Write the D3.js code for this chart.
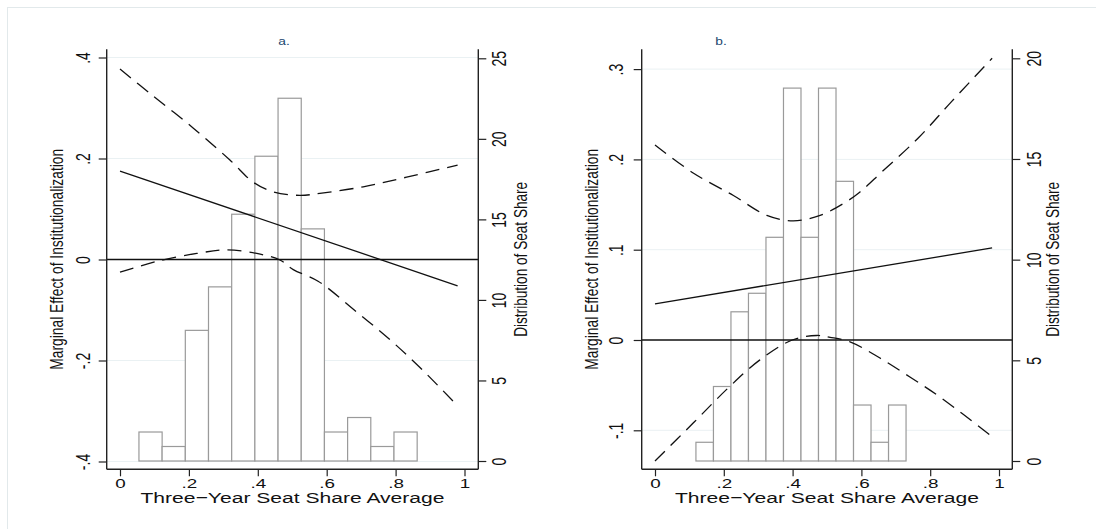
<!DOCTYPE html>
<html>
<head>
<meta charset="utf-8">
<script src="https://cdn.jsdelivr.net/npm/d3@7"></script>
<style>
  body { margin: 0; background: #fff; }
  svg { display: block; font-family: "Liberation Sans", Arial, sans-serif; }
</style>
</head>
<body>
<svg id="chart" width="1096" height="529"></svg>
<script>
// ---- data, panel a ----
const histA = [1.80, 0.90, 8.11, 10.81, 15.32, 18.92, 22.52, 14.41, 1.80, 2.70, 0.90, 1.80];
const binStartA = 0.055, binWidthA = 0.0673;
const effectA = [[0, 0.175], [0.98, -0.052]];
const upperA = [[0, 0.377], [0.087, 0.329], [0.213, 0.26], [0.319, 0.197], [0.387, 0.153], [0.445, 0.134],
                [0.522, 0.127], [0.58, 0.131], [0.706, 0.144], [0.832, 0.163], [0.98, 0.187]];
const lowerA = [[0, -0.025], [0.106, -0.004], [0.223, 0.012], [0.31, 0.019], [0.397, 0.012], [0.464, -0.001],
                [0.503, -0.02], [0.575, -0.043], [0.68, -0.10], [0.784, -0.159], [0.88, -0.22], [0.98, -0.29]];
const leftTicksA = [-0.4, -0.2, 0, 0.2, 0.4];
const rightTicksA = [0, 5, 10, 15, 20, 25];

// ---- data, panel b ----
const histB = [0.93, 3.70, 7.41, 8.33, 11.11, 18.52, 11.11, 18.52, 13.89, 2.78, 0.93, 2.78];
const binStartB = 0.119, binWidthB = 0.0509;
const effectB = [[0, 0.040], [0.98, 0.102]];
const upperB = [[0, 0.216], [0.111, 0.185], [0.228, 0.16], [0.325, 0.138], [0.402, 0.132], [0.48, 0.138],
                [0.547, 0.151], [0.596, 0.164], [0.659, 0.186], [0.766, 0.224], [0.862, 0.264], [0.98, 0.312]];
const lowerB = [[0, -0.134], [0.111, -0.092], [0.213, -0.053], [0.305, -0.022], [0.399, 0], [0.47, 0.005],
                [0.509, 0.003], [0.567, -0.002], [0.654, -0.02], [0.741, -0.041], [0.828, -0.063], [0.98, -0.107]];
const leftTicksB = [-0.1, 0, 0.1, 0.2, 0.3];
const rightTicksB = [0, 5, 10, 15, 20];

const xTicks = [0, 0.2, 0.4, 0.6, 0.8, 1];
const titleY = "Marginal Effect of Institutionalization";
const titleR = "Distribution of Seat Share";
const titleX = "Three\u2212Year Seat Share Average";

const fmt = v => v === 0 ? "0" : String(+v.toFixed(2)).replace("0.", ".");

const svg = d3.select("#chart");

// light outer frame
svg.append("rect")
    .attr("x", 7.5).attr("y", 7.5)
    .attr("width", 1120).attr("height", 560)
    .attr("fill", "none").attr("stroke", "#e2e9eb").attr("stroke-width", 1);

function drawPanel(p) {
    const [bx0, by0, bx1, by1] = p.box;
    const x = d3.scaleLinear().domain([0, 1]).range(p.xRange);
    const yL = d3.scaleLinear().domain(p.leftDomain).range(p.leftRange);
    const yR = d3.scaleLinear().domain([0, p.rightMax]).range(p.rightRange);
    const g = svg.append("g");

    // faint grid at left ticks
    g.append("g").selectAll("line")
        .data(p.leftTicks.filter(v => v !== 0))
        .join("line")
        .attr("x1", bx0).attr("x2", bx1)
        .attr("y1", d => yL(d)).attr("y2", d => yL(d))
        .attr("stroke", "#eaf1f3").attr("stroke-width", 1);

    // histogram (percent of observations)
    g.append("g").selectAll("rect")
        .data(p.hist)
        .join("rect")
        .attr("x", (d, i) => x(p.binStart + i * p.binWidth))
        .attr("width", (d, i) => x(p.binStart + (i + 1) * p.binWidth) - x(p.binStart + i * p.binWidth))
        .attr("y", d => yR(d))
        .attr("height", d => yR(0) - yR(d))
        .attr("fill", "#fff")
        .attr("stroke", "#9a9a9a")
        .attr("stroke-width", 1.2);

    // zero line
    g.append("line")
        .attr("x1", bx0).attr("x2", bx1)
        .attr("y1", yL(0)).attr("y2", yL(0))
        .attr("stroke", "#111").attr("stroke-width", 1.3);

    const line = d3.line()
        .x(d => x(d[0]))
        .y(d => yL(d[1]))
        .curve(d3.curveCatmullRom.alpha(0.5));

    g.append("path").datum(p.effect)
        .attr("d", line)
        .attr("fill", "none").attr("stroke", "#111").attr("stroke-width", 1.3);

    [p.upper, p.lower].forEach(ci => {
        g.append("path").datum(ci)
            .attr("d", line)
            .attr("fill", "none").attr("stroke", "#111").attr("stroke-width", 1.3)
            .attr("stroke-dasharray", "14,8");
    });

    // axes
    const axisLine = (x1, y1, x2, y2) => g.append("line")
        .attr("x1", x1).attr("y1", y1).attr("x2", x2).attr("y2", y2)
        .attr("stroke", "#222").attr("stroke-width", 1.4);
    axisLine(bx0, by0, bx0, by1);
    axisLine(bx1, by0, bx1, by1);
    axisLine(bx0, by1, bx1, by1);

    const gx = g.append("g").attr("transform", `translate(0,${by1})`)
        .call(d3.axisBottom(x).tickValues(xTicks).tickFormat(fmt).tickSize(7).tickSizeOuter(0));
    gx.select(".domain").remove();
    gx.selectAll(".tick line").attr("stroke", "#222").attr("stroke-width", 1.2);
    gx.selectAll(".tick text")
        .attr("y", null).attr("dy", null)
        .attr("transform", "translate(0,18.5) scale(1.45,1)")
        .attr("font-size", 13).attr("fill", "#111")
        .attr("font-family", "Liberation Sans, Arial, sans-serif");

    const gl = g.append("g").attr("transform", `translate(${bx0},0)`)
        .call(d3.axisLeft(yL).tickValues(p.leftTicks).tickFormat(fmt).tickSize(8).tickSizeOuter(0));
    gl.select(".domain").remove();
    gl.selectAll(".tick line").attr("stroke", "#222").attr("stroke-width", 1.2);
    gl.selectAll(".tick text")
        .attr("x", null).attr("dy", null)
        .attr("text-anchor", "middle")
        .attr("transform", `translate(${p.leftLabelOff},0) rotate(-90) scale(1,1.5)`)
        .attr("font-size", 14).attr("fill", "#111")
        .attr("font-family", "Liberation Sans, Arial, sans-serif");

    const gr = g.append("g").attr("transform", `translate(${bx1},0)`)
        .call(d3.axisRight(yR).tickValues(p.rightTicks).tickFormat(fmt).tickSize(8).tickSizeOuter(0));
    gr.select(".domain").remove();
    gr.selectAll(".tick line").attr("stroke", "#222").attr("stroke-width", 1.2);
    gr.selectAll(".tick text")
        .attr("x", null).attr("dy", null)
        .attr("text-anchor", "middle")
        .attr("transform", `translate(${p.rightLabelOff},0) rotate(-90) scale(1,1.5)`)
        .attr("font-size", 14).attr("fill", "#111")
        .attr("font-family", "Liberation Sans, Arial, sans-serif");

    // titles
    const cy = (by0 + by1) / 2;
    g.append("text")
        .attr("transform", `translate(${bx0 + p.leftTitleOff},${cy}) rotate(-90)`)
        .attr("text-anchor", "middle")
        .attr("font-size", 18)
        .attr("textLength", 221).attr("lengthAdjust", "spacingAndGlyphs")
        .attr("fill", "#111")
        .text(titleY);
    g.append("text")
        .attr("transform", `translate(${bx1 + p.rightTitleOff},${cy}) rotate(-90)`)
        .attr("text-anchor", "middle")
        .attr("font-size", 18)
        .attr("textLength", 155).attr("lengthAdjust", "spacingAndGlyphs")
        .attr("fill", "#111")
        .text(titleR);
    g.append("text")
        .attr("x", (bx0 + bx1) / 2).attr("y", 503)
        .attr("text-anchor", "middle")
        .attr("font-size", 15.5)
        .attr("textLength", 304).attr("lengthAdjust", "spacingAndGlyphs")
        .attr("fill", "#111")
        .text(titleX);
    g.append("text")
        .attr("transform", `translate(${p.titleX},45) scale(1.25,1)`)
        .attr("text-anchor", "middle")
        .attr("font-size", 11)
        .attr("fill", "#1a476f")
        .text(p.title);
}

drawPanel({
    title: "a.", titleX: 284,
    box: [106.7, 49.3, 478.3, 469.3],
    xRange: [120, 464.5],
    leftDomain: [-0.4, 0.4], leftRange: [461.5, 57.5],
    rightMax: 25, rightRange: [461, 58.3],
    leftTicks: leftTicksA, rightTicks: rightTicksA,
    hist: histA, binStart: binStartA, binWidth: binWidthA,
    effect: effectA, upper: upperA, lower: lowerA,
    leftLabelOff: -17, rightLabelOff: 28,
    leftTitleOff: -43.7, rightTitleOff: 48.7
});

drawPanel({
    title: "b.", titleX: 721,
    box: [641.7, 49.3, 1012.3, 469.3],
    xRange: [655, 999],
    leftDomain: [-0.1, 0.3], leftRange: [430.3, 69.1],
    rightMax: 20, rightRange: [461, 58.3],
    leftTicks: leftTicksB, rightTicks: rightTicksB,
    hist: histB, binStart: binStartB, binWidth: binWidthB,
    effect: effectB, upper: upperB, lower: lowerB,
    leftLabelOff: -18.5, rightLabelOff: 29,
    leftTitleOff: -43.7, rightTitleOff: 46.7
});
</script>
</body>
</html>
